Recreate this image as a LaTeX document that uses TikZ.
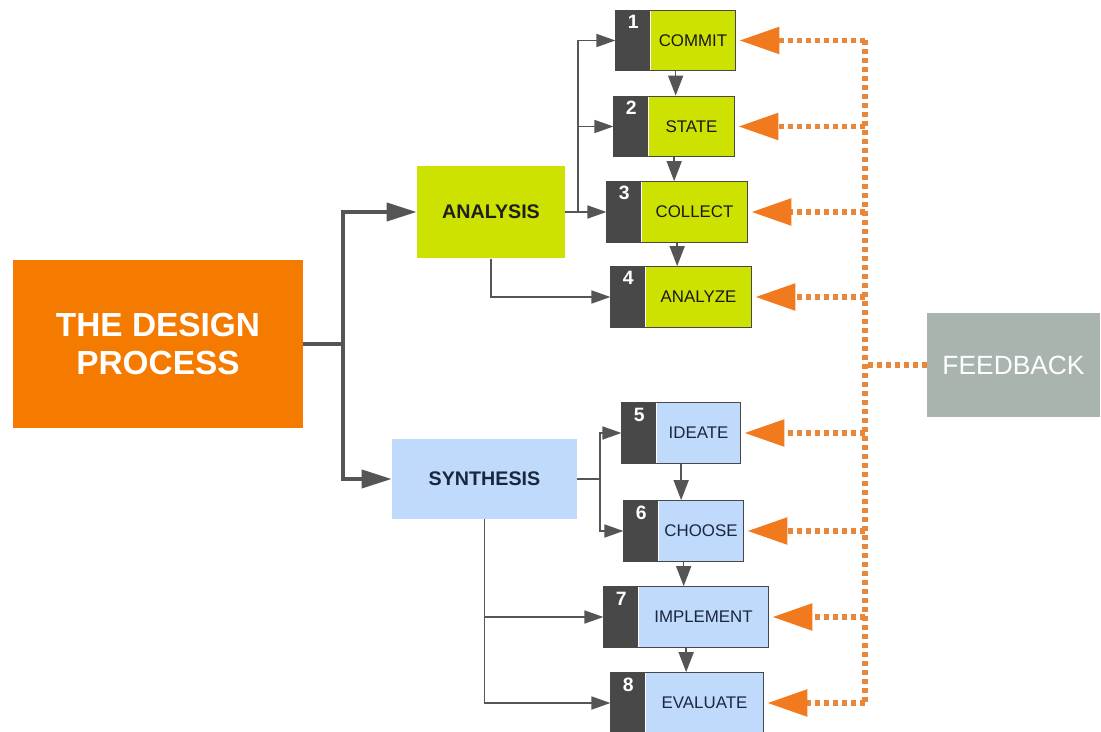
\documentclass[tikz,border=0pt]{standalone}
\usepackage{fontspec}
\setmainfont{Liberation Sans}
\usetikzlibrary{
    arrows.meta,
    positioning,
    fit
}
\definecolor{dporange}{HTML}{F47B00}
\definecolor{dpgreen}{HTML}{CDE200}
\definecolor{dpblue}{HTML}{BFDAFA}
\definecolor{dpdark}{HTML}{484848}
\definecolor{dpgray}{HTML}{A9B4AF}
\definecolor{fborange}{HTML}{F27A1E}
\definecolor{fbdash}{HTML}{E8863A}
\definecolor{lngray}{HTML}{555555}
\definecolor{navytext}{HTML}{1A2740}
\tikzset{title/.style={fill=dporange, text=white, align=center, inner sep=0pt,
    font=\bfseries\fontsize{19}{21.6}\selectfont, minimum width=5.8cm, minimum height=3.36cm}}
\tikzset{phase/.style={inner sep=0pt, text=black!88, font=\bfseries\fontsize{11.2}{13}\selectfont}}
\tikzset{fbbox/.style={fill=dpgray, text=white, inner sep=0pt,
    font=\fontsize{15}{17}\selectfont, minimum width=3.46cm, minimum height=2.08cm}}
\tikzset{stepg/.style={fill=dpgreen, text=black!90, inner sep=0pt, minimum height=1.2cm,
    font=\fontsize{9.6}{11}\selectfont}}
\tikzset{stepb/.style={fill=dpblue, text=navytext, inner sep=0pt, minimum height=1.2cm,
    font=\fontsize{9.6}{11}\selectfont}}
\tikzset{num/.style={fill=dpdark, text=white, font=\bfseries\fontsize{11}{12}\selectfont,
    minimum width=0.68cm, inner xsep=0pt, inner ysep=0.08cm, text height=0.28cm, text depth=0.76cm}}
\tikzset{outline/.style={draw=dpdark, line width=0.6pt, inner sep=0pt}}
\tikzset{mainline/.style={draw=lngray, line width=2.2pt}}
\tikzset{mainarr/.style={mainline, -{Triangle[length=0.6cm, width=0.36cm]}}}
\tikzset{thinline/.style={draw=lngray, line width=0.9pt}}
\tikzset{thinarr/.style={thinline, -{Triangle[length=0.38cm, width=0.26cm]}}}
\tikzset{downarr/.style={thinline, -{Triangle[length=0.4cm, width=0.3cm]}}}
\tikzset{fbline/.style={draw=fbdash, line width=0.11cm, dash pattern=on 0.1cm off 0.08cm}}
\tikzset{fbarr/.style={fbline, shorten >=0.07cm, -{Triangle[length=0.8cm, width=0.52cm, color=fborange]}}}

\begin{document}
\begin{tikzpicture}[x=0.02cm, y=-0.02cm]
    \useasboundingbox (0,0) rectangle (1101,732);

    \node[title] (design) at (158, 344) {THE DESIGN\\PROCESS};
    \node[phase, fill=dpgreen, minimum width=2.96cm, minimum height=1.86cm] (analysis) at (491, 212) {ANALYSIS};
    \node[phase, fill=dpblue, text=navytext, minimum width=3.7cm, minimum height=1.6cm] (synthesis) at (484.5, 479) {SYNTHESIS};
    \node[fbbox] (feedback) at (1013.5, 365) {FEEDBACK};

    % analysis steps
    \node[stepg, minimum width=1.68cm] (step1) at (693, 40.5) {COMMIT};
    \node[num, left=0pt of step1] (num1) {1};
    \node[outline, fit=(num1)(step1)] (box1) {};
    \node[stepg, minimum width=1.70cm] (step2) at (691.5, 126.5) {STATE};
    \node[num, left=0pt of step2] (num2) {2};
    \node[outline, fit=(num2)(step2)] (box2) {};
    \node[stepg, minimum width=2.10cm] (step3) at (694.5, 212) {COLLECT};
    \node[num, left=0pt of step3] (num3) {3};
    \node[outline, fit=(num3)(step3)] (box3) {};
    \node[stepg, minimum width=2.10cm] (step4) at (698.5, 297) {ANALYZE};
    \node[num, left=0pt of step4] (num4) {4};
    \node[outline, fit=(num4)(step4)] (box4) {};

    % synthesis steps
    \node[stepb, minimum width=1.66cm] (step5) at (698.5, 433) {IDEATE};
    \node[num, left=0pt of step5] (num5) {5};
    \node[outline, fit=(num5)(step5)] (box5) {};
    \node[stepb, minimum width=1.68cm] (step6) at (701, 531) {CHOOSE};
    \node[num, left=0pt of step6] (num6) {6};
    \node[outline, fit=(num6)(step6)] (box6) {};
    \node[stepb, minimum width=2.58cm] (step7) at (703.5, 617) {IMPLEMENT};
    \node[num, left=0pt of step7] (num7) {7};
    \node[outline, fit=(num7)(step7)] (box7) {};
    \node[stepb, minimum width=2.34cm] (step8) at (704.5, 703) {EVALUATE};
    \node[num, left=0pt of step8] (num8) {8};
    \node[outline, fit=(num8)(step8)] (box8) {};

    \coordinate (jmain) at (343, 344);
    \coordinate (ja) at (578, 212);
    \coordinate (js) at (600, 479);
    \coordinate (fbx) at (865, 365);

    % main branches
    \draw[mainline] (design.east) -- (jmain);
    \draw[mainarr] (jmain) |- (analysis.west);
    \draw[mainarr] (jmain) |- (synthesis.west);

    \draw[thinline] (analysis.east) -- (ja);
    \draw[thinarr] (ja) |- (box1.west);
    \draw[thinarr] (ja) |- (box2.west);
    \draw[thinarr] (ja) -- (box3.west);
    \draw[thinarr] (analysis.south) |- (box4.west);

    \draw[thinline] (synthesis.east) -- (js);
    \draw[thinarr] (js) |- (box5.west);
    \draw[thinarr] (js) |- (box6.west);
    \draw[thinarr] (synthesis.south) |- (box7.west);
    \draw[thinarr] (synthesis.south) |- (box8.west);

    % step to step
    \draw[downarr] (box1.south) -- (box1.south |- box2.north);
    \draw[downarr] (box2.south) -- (box2.south |- box3.north);
    \draw[downarr] (box3.south) -- (box3.south |- box4.north);
    \draw[downarr] (box5.south) -- (box5.south |- box6.north);
    \draw[downarr] (box6.south) -- (box6.south |- box7.north);
    \draw[downarr] (box7.south) -- (box7.south |- box8.north);

    % feedback
    \draw[fbline] (box1.east -| fbx) -- (box8.east -| fbx);
    \draw[fbline] (feedback.west) -- (fbx);
    \draw[fbarr] (box1.east -| fbx) -- (box1.east);
    \draw[fbarr] (box2.east -| fbx) -- (box2.east);
    \draw[fbarr] (box3.east -| fbx) -- (box3.east);
    \draw[fbarr] (box4.east -| fbx) -- (box4.east);
    \draw[fbarr] (box5.east -| fbx) -- (box5.east);
    \draw[fbarr] (box6.east -| fbx) -- (box6.east);
    \draw[fbarr] (box7.east -| fbx) -- (box7.east);
    \draw[fbarr] (box8.east -| fbx) -- (box8.east);
\end{tikzpicture}
\end{document}
